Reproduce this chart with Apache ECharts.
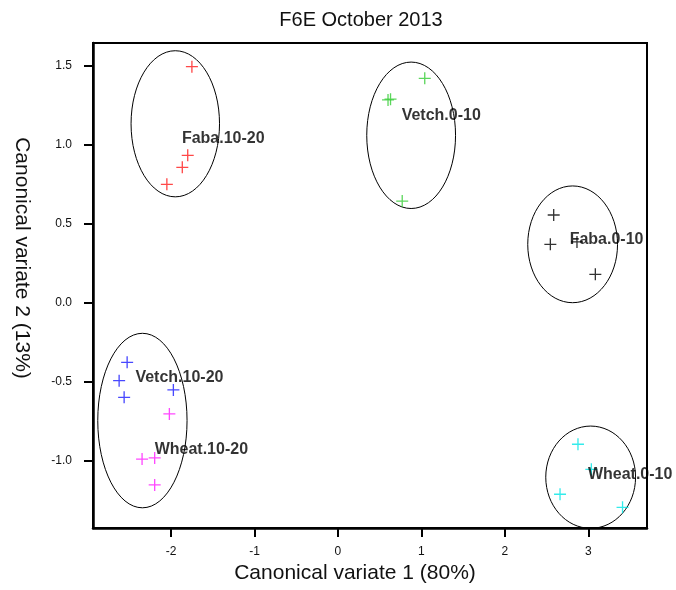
<!DOCTYPE html>
<html>
<head>
<meta charset="utf-8">
<script src="https://cdn.jsdelivr.net/npm/echarts@6/dist/echarts.min.js"></script>
<style>
  html, body { margin: 0; padding: 0; background: #fff; }
  #chart { width: 676px; height: 590px; }
</style>
</head>
<body>
<div id="chart"></div>
<script>
// Canonical variate scores, one array pair per treatment group
const groupNames = ['Faba.10-20', 'Vetch.0-10', 'Faba.0-10', 'Vetch.10-20', 'Wheat.10-20', 'Wheat.0-10'];
const groupColors = ['#ff1a1a', '#33cc33', '#000000', '#1a1aff', '#ff1aff', '#00e6e6'];

const cv1Faba1020 = [-1.75, -1.80, -1.865, -2.05];
const cv2Faba1020 = [1.496, 0.934, 0.858, 0.750];

const cv1Vetch010 = [1.04, 0.60, 0.63, 0.77];
const cv2Vetch010 = [1.422, 1.285, 1.29, 0.644];

const cv1Faba010 = [2.585, 2.545, 2.864, 3.084];
const cv2Faba010 = [0.556, 0.370, 0.385, 0.180];

const cv1Vetch1020 = [-2.526, -2.622, -2.562, -1.972];
const cv2Vetch1020 = [-0.378, -0.494, -0.600, -0.553];

const cv1Wheat1020 = [-2.020, -2.347, -2.196, -2.196];
const cv2Wheat1020 = [-0.705, -0.991, -0.984, -1.155];

const cv1Wheat010 = [2.876, 3.036, 2.661, 3.410];
const cv2Wheat010 = [-0.897, -1.056, -1.214, -1.297];

// Group label anchors (left edge, vertical middle)
const labelCv1 = [-1.87, 0.763, 2.776, -2.427, -2.196, 2.995];
const labelCv2 = [1.037, 1.189, 0.397, -0.475, -0.929, -1.087];

// Group ellipses: centre and semi-axes, in canonical variate units
const ellipseCx = [-1.949, 0.877, 2.812, -2.343, 3.028];
const ellipseCy = [1.134, 1.061, 0.370, -0.747, -1.106];
const ellipseRx = [0.530, 0.532, 0.538, 0.535, 0.538];
const ellipseRy = [0.463, 0.464, 0.370, 0.553, 0.324];

// Tick labels
const xTicks = [-2, -1, 0, 1, 2, 3];
const yTicks = [-1.0, -0.5, 0.0, 0.5, 1.0, 1.5];

const cv1 = [cv1Faba1020, cv1Vetch010, cv1Faba010, cv1Vetch1020, cv1Wheat1020, cv1Wheat010];
const cv2 = [cv2Faba1020, cv2Vetch010, cv2Faba010, cv2Vetch1020, cv2Wheat1020, cv2Wheat010];

const FONT = 'Liberation Sans, Arial, sans-serif';
const plusPath = 'path://M4.45,0H5.55V4.45H10V5.55H5.55V10H4.45V5.55H0V4.45H4.45Z';

const pointSeries = groupNames.map((name, g) => ({
  name: name,
  type: 'scatter',
  symbol: plusPath,
  symbolSize: 12,
  itemStyle: { color: groupColors[g] },
  data: cv1[g].map((x, i) => [x, cv2[g][i]]),
  z: 3
}));

const ellipseSeries = {
  type: 'custom',
  renderItem: (params, api) => {
    const c = api.coord([api.value(0), api.value(1)]);
    const s = api.size([api.value(2), api.value(3)]);
    return {
      type: 'ellipse',
      shape: { cx: c[0], cy: c[1], rx: s[0], ry: s[1] },
      style: { fill: 'none', stroke: '#000', lineWidth: 1 }
    };
  },
  data: ellipseCx.map((cx, i) => [cx, ellipseCy[i], ellipseRx[i], ellipseRy[i]]),
  silent: true,
  z: 2
};

const labelSeries = {
  type: 'scatter',
  symbolSize: 0,
  silent: true,
  data: groupNames.map((n, i) => ({ value: [labelCv1[i], labelCv2[i]], name: n })),
  label: {
    show: true,
    position: 'right',
    distance: 0,
    formatter: p => p.name,
    fontFamily: FONT,
    fontWeight: 'bold',
    fontSize: 16,
    color: '#000'
  },
  z: 4
};

const chart = echarts.init(document.getElementById('chart'), null, { renderer: 'canvas' });
chart.setOption({
  backgroundColor: '#fff',
  animation: false,
  grid: {
    left: 93, right: 29, top: 43, bottom: 62,
    show: true, borderColor: '#000', borderWidth: 2, backgroundColor: 'transparent'
  },
  xAxis: {
    type: 'value',
    min: -2.935, max: 3.703,
    axisLine: { show: true, onZero: false, lineStyle: { color: '#000', width: 2.5 } },
    axisTick: { show: true, inside: false, length: 9, customValues: xTicks, lineStyle: { color: '#000', width: 2 } },
    axisLabel: { customValues: xTicks, margin: 18, fontSize: 12, color: '#111', fontFamily: FONT },
    splitLine: { show: false }
  },
  yAxis: {
    type: 'value',
    min: -1.428, max: 1.646,
    axisLine: { show: true, onZero: false, lineStyle: { color: '#000', width: 2.5 } },
    axisTick: { show: true, inside: false, length: 9, customValues: yTicks, lineStyle: { color: '#000', width: 2 } },
    axisLabel: { customValues: yTicks, margin: 21, fontSize: 12, color: '#111', fontFamily: FONT, formatter: v => v.toFixed(1) },
    splitLine: { show: false }
  },
  graphic: [{
    type: 'text',
    x: 361, y: 20,
    style: {
      text: 'F6E October 2013',
      fontFamily: FONT, fontSize: 20, fill: '#111',
      align: 'center', verticalAlign: 'middle'
    }
  }, {
    type: 'text',
    x: 355, y: 573,
    style: {
      text: 'Canonical variate 1 (80%)',
      fontFamily: FONT, fontSize: 21, fill: '#111',
      align: 'center', verticalAlign: 'middle'
    }
  }, {
    type: 'text',
    x: 22, y: 258,
    rotation: -Math.PI / 2,
    style: {
      text: 'Canonical variate 2 (13%)',
      fontFamily: FONT, fontSize: 21, fill: '#111',
      align: 'center', verticalAlign: 'middle'
    }
  }],
  series: [ellipseSeries].concat(pointSeries, [labelSeries])
});
</script>
</body>
</html>
